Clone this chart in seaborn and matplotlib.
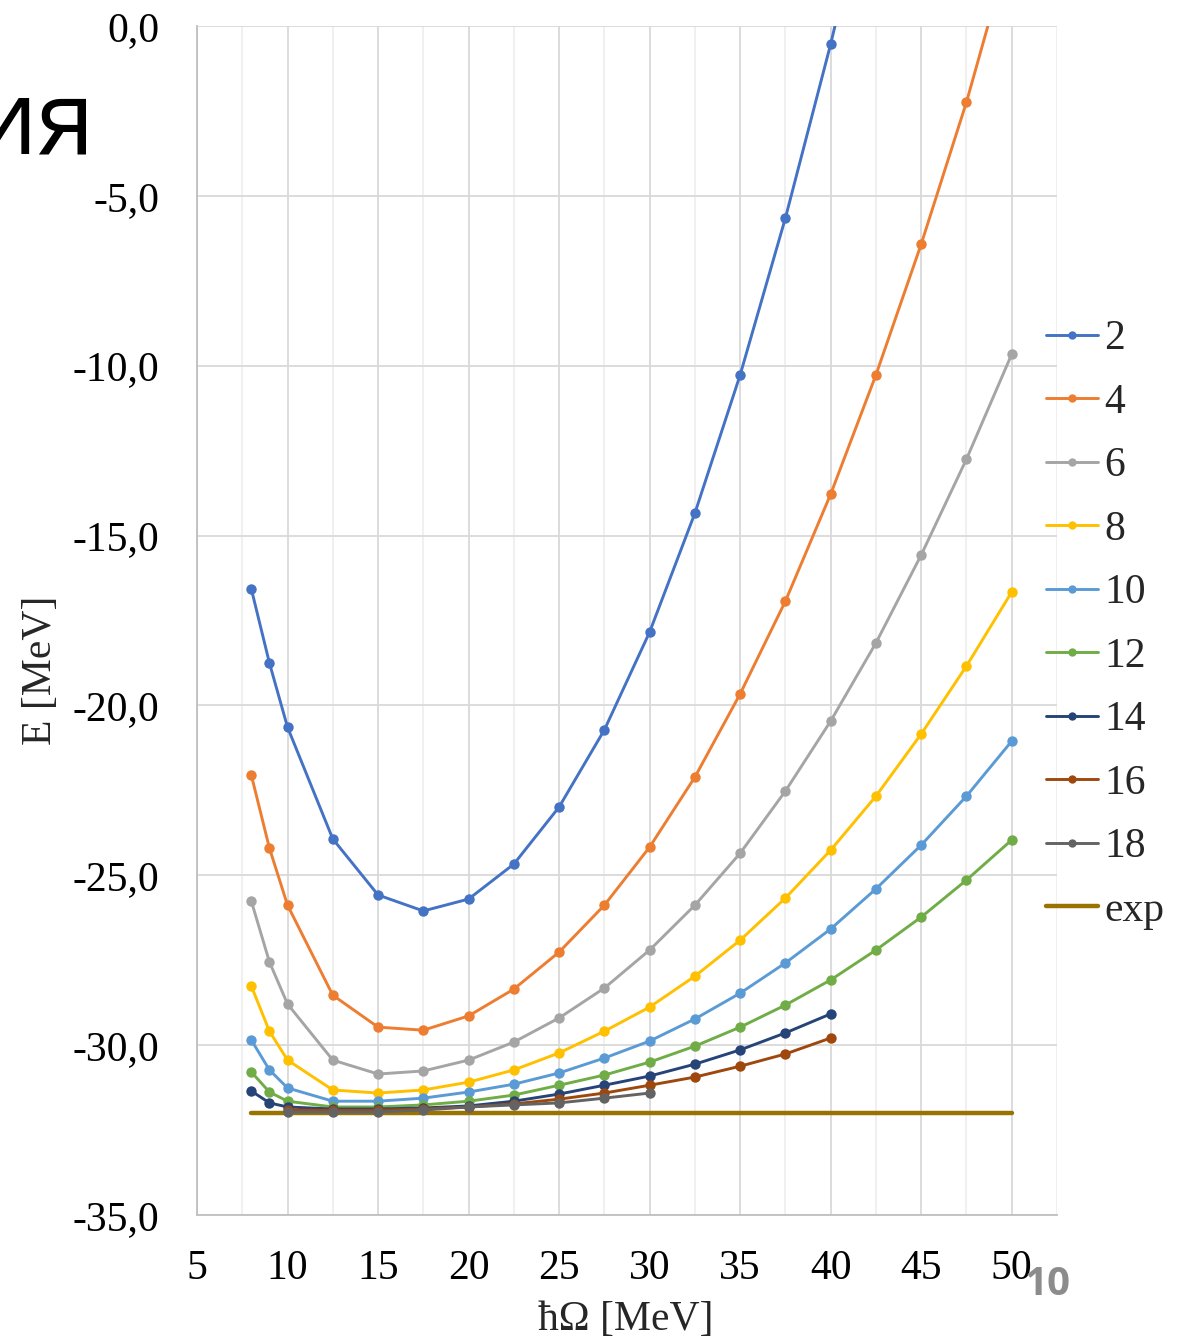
import numpy as np
import pandas as pd
import matplotlib
matplotlib.use("Agg")
import matplotlib.pyplot as plt
import seaborn as sns
from matplotlib.ticker import FuncFormatter, MultipleLocator
from matplotlib.lines import Line2D

# ---------------- data ----------------
x_full = [8, 9, 10, 12.5, 15, 17.5, 20, 22.5, 25, 27.5, 30, 32.5, 35, 37.5, 40, 42.5, 45, 47.5, 50]

x_2 = x_full[:16]
e_2 = [-16.57, -18.75, -20.64, -23.93, -25.58, -26.05, -25.70, -24.67, -22.99, -20.72,
       -17.84, -14.34, -10.27, -5.65, -0.53, 5.1]
x_4 = x_full
e_4 = [-22.05, -24.20, -25.88, -28.53, -29.47, -29.56, -29.14, -28.35, -27.26, -25.88,
       -24.17, -22.11, -19.66, -16.93, -13.78, -10.27, -6.42, -2.24, 2.5]
x_6 = x_full
e_6 = [-25.76, -27.55, -28.79, -30.44, -30.85, -30.76, -30.44, -29.91, -29.20, -28.32,
       -27.20, -25.88, -24.35, -22.52, -20.46, -18.16, -15.57, -12.75, -9.66]
x_8 = x_full
e_8 = [-28.26, -29.59, -30.44, -31.32, -31.41, -31.32, -31.09, -30.73, -30.23, -29.59,
       -28.88, -27.97, -26.91, -25.67, -24.26, -22.67, -20.84, -18.84, -16.66]
x_10 = x_full
e_10 = [-29.85, -30.73, -31.26, -31.65, -31.65, -31.56, -31.38, -31.15, -30.82, -30.38,
        -29.88, -29.23, -28.47, -27.58, -26.58, -25.40, -24.11, -22.67, -21.05]
x_12 = x_full
e_12 = [-30.79, -31.38, -31.65, -31.82, -31.82, -31.76, -31.65, -31.47, -31.18, -30.88,
        -30.50, -30.03, -29.47, -28.82, -28.08, -27.20, -26.23, -25.14, -23.96]
x_14 = x_full[:15]
e_14 = [-31.35, -31.70, -31.82, -31.88, -31.88, -31.85, -31.79, -31.65, -31.44, -31.18,
        -30.91, -30.56, -30.14, -29.64, -29.08]
x_16 = x_full[2:15]
e_16 = [-31.91, -31.92, -31.92, -31.88, -31.82, -31.73, -31.59, -31.41, -31.18, -30.94,
        -30.62, -30.26, -29.79]
x_18 = x_full[2:11]
e_18 = [-31.97, -31.97, -31.97, -31.91, -31.82, -31.76, -31.70, -31.56, -31.41]

x_exp = [8, 50]
e_exp = [-32.0, -32.0]

series_names = ["2", "4", "6", "8", "10", "12", "14", "16", "18"]
series_x = [x_2, x_4, x_6, x_8, x_10, x_12, x_14, x_16, x_18]
series_e = [e_2, e_4, e_6, e_8, e_10, e_12, e_14, e_16, e_18]
colors = ["#4472C4", "#ED7D31", "#A5A5A5", "#FFC000", "#5B9BD5",
          "#70AD47", "#264478", "#9E480E", "#636363"]
exp_color = "#997300"

rows = []
for name, xs, es in zip(series_names, series_x, series_e):
    for xv, ev in zip(xs, es):
        rows.append({"x": xv, "E": ev, "N": name})
df = pd.DataFrame(rows)
df_exp = pd.DataFrame({"x": x_exp, "E": e_exp, "N": ["exp"] * len(x_exp)})

# ---------------- figure ----------------
sns.set_theme(style="white")
plt.rcParams["font.family"] = ["Liberation Serif", "DejaVu Serif"]

W, H = 1191, 1337
fig = plt.figure(figsize=(W / 100, H / 100), dpi=100)
ax = fig.add_axes([197 / W, 1 - 1215 / H, (1057 - 197) / W, (1215 - 26) / H])

sns.lineplot(data=df_exp, x="x", y="E", color=exp_color, linewidth=3.2, ax=ax,
             estimator=None, sort=False, legend=False, zorder=2)
sns.lineplot(data=df, x="x", y="E", hue="N", hue_order=series_names,
             palette=dict(zip(series_names, colors)), marker="o", markersize=7.5,
             markeredgewidth=0, linewidth=2.1, estimator=None, sort=False,
             ax=ax, legend=True, zorder=3)

ax.set_xlim(5, 52.5)
ax.set_ylim(-35, 0)
ax.xaxis.set_major_locator(MultipleLocator(5))
ax.xaxis.set_minor_locator(MultipleLocator(2.5))
ax.yaxis.set_major_locator(MultipleLocator(5))
ax.grid(True, which="major", axis="both", color="#d9d9d9", linewidth=1.3, zorder=0)
ax.grid(True, which="minor", axis="x", color="#efefef", linewidth=1.3, zorder=0)
ax.set_axisbelow(True)

ax.xaxis.set_major_formatter(FuncFormatter(lambda v, p: f"{v:.0f}"))
ax.yaxis.set_major_formatter(FuncFormatter(lambda v, p: f"{v:.1f}".replace(".", ",").replace("\u2212", "-")))
ax.tick_params(axis="both", which="both", length=0, labelsize=30, colors="black")
ax.tick_params(axis="y", pad=27)
ax.tick_params(axis="x", pad=25)

for s in ["top", "right"]:
    ax.spines[s].set_visible(False)
for s in ["left", "bottom"]:
    ax.spines[s].set_color("#bfbfbf")
    ax.spines[s].set_linewidth(1.3)

ax.set_xlabel("ħΩ [MeV]", fontsize=30)
ax.set_ylabel("E [MeV]", fontsize=30)
ax.xaxis.set_label_coords(0.498, -0.0715)
ax.yaxis.set_label_coords(-0.159, 0.458)

# legend
handles, labels = ax.get_legend_handles_labels()
exp_handle = Line2D([], [], color=exp_color, linewidth=3.2)
handles = list(handles) + [exp_handle]
labels = list(labels) + ["exp"]
ax.get_legend().remove()
fig.legend(handles, labels, loc="center left", bbox_to_anchor=(1046 / W, 1 - 625 / H),
           frameon=False, fontsize=30, handlelength=1.25, handletextpad=0.15,
           labelspacing=0.6, borderpad=0, borderaxespad=0, markerscale=0.8)

# fragments of surrounding slide
fig.text(95 / W, 1 - 153 / H, "ия", fontsize=75, ha="right", va="baseline",
         family=["Open Sans", "DejaVu Sans"], color="black")
fig.text(1025 / W, 1 - 1295 / H, "10", fontsize=29, ha="left", va="baseline",
         family=["Open Sans", "DejaVu Sans"], fontweight="bold", color="#8c8c8c")

fig.savefig("out.png", dpi=100)
